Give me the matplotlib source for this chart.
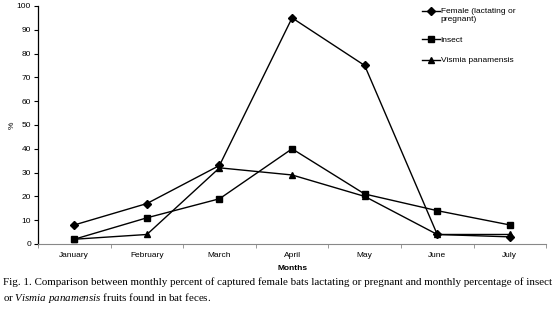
import numpy as np
import matplotlib.pyplot as plt

months = ["January", "February", "March", "April", "May", "June", "July"]
female = [8, 17, 33, 95, 75, 4, 3]
insect = [2, 11, 19, 40, 21, 14, 8]
vismia = [2, 4, 32, 29, 20, 4, 4]

plt.rcParams['font.family'] = ['Liberation Sans', 'DejaVu Sans']
plt.rcParams['mathtext.fontset'] = 'custom'
plt.rcParams['mathtext.rm'] = 'Liberation Serif'
plt.rcParams['mathtext.it'] = 'Liberation Serif:italic'

fig = plt.figure(figsize=(5.59, 3.15), dpi=100)
ax = fig.add_axes([0.068, 0.2254, 0.909, 0.7556])

x = np.arange(len(months))
ax.plot(x, female, color="black", lw=1, marker="D", ms=3.8, label="Female (lactating or\npregnant)")
ax.plot(x, insect, color="black", lw=1, marker="s", ms=4.5, label="Insect")
ax.plot(x, vismia, color="black", lw=1, marker="^", ms=4.5, label="Vismia panamensis")

ax.set_xlim(-0.5, len(months) - 0.5)
ax.set_ylim(0, 100)
ax.set_yticks(range(0, 101, 10))
ax.set_xticks(x)
ax.set_xticklabels(months)
ax.set_xticks(np.arange(-0.5, len(months), 1), minor=True)
ax.tick_params(axis="x", which="major", length=0, labelsize=6, pad=6)
ax.tick_params(axis="x", which="minor", length=3, color="#888888")
ax.tick_params(axis="y", length=3, labelsize=6, pad=2)

ax.spines["top"].set_visible(False)
ax.spines["right"].set_visible(False)
ax.spines["bottom"].set_color("#888888")
ax.spines["left"].set_linewidth(0.9)

ax.set_ylabel("%", fontsize=6, labelpad=1)
ax.set_xlabel("Months", fontsize=6, fontweight="bold", labelpad=4)

leg = ax.legend(loc="upper left", bbox_to_anchor=(0.74, 1.022), frameon=False, fontsize=6,
                handlelength=2.2, handletextpad=0.1, labelspacing=1.6)
# put the marker next to the first line of a two-line label
for col in leg._legend_handle_box.get_children():
    for item in col.get_children():
        item.align = "top"

fig.text(0.006, 0.095, "Fig. 1. Comparison between monthly percent of captured female bats lactating or pregnant and monthly percentage of insect",
         family="Liberation Serif", fontsize=7.95)
fig.text(0.006, 0.045, "or $\\it{Vismia\\ panamensis}$ fruits found in bat feces.",
         family="Liberation Serif", fontsize=7.95)

fig.savefig("out.png", dpi=100)
